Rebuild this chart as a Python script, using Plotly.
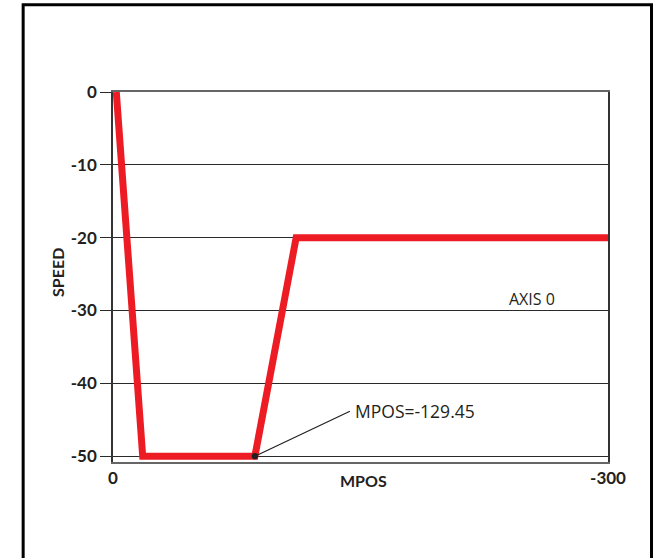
import plotly.graph_objects as go

# Data
mpos = [-2, -18, -86, -111, -300]
speed = [0, -50, -50, -20, -20]

y_tickvals = [0, -10, -20, -30, -40, -50]
y_ticktext = ["0", "-10", "-20", "-30", "-40", "-50"]
x_tickvals = [0, -300]
x_ticktext = ["0", "-300"]

annot_label = "MPOS=-129.45"
axis_label = "AXIS 0"

RED = "#ED1C24"
TICKFONT = dict(family="Lato", size=17, color="#231f20", weight="bold")

fig = go.Figure()
fig.add_trace(go.Scatter(
    x=mpos, y=speed, mode="lines",
    line=dict(color=RED, width=7),
    hoverinfo="skip", showlegend=False,
))

W, H = 655, 558
L, R, T, B = 113, 47, 92, 96

fig.update_layout(
    width=W, height=H,
    margin=dict(l=L, r=R, t=T, b=B, autoexpand=False),
    paper_bgcolor="white", plot_bgcolor="white",
    showlegend=False,
    xaxis=dict(
        range=[0, -300], tickvals=x_tickvals, ticktext=x_ticktext,
        showgrid=False, zeroline=False, ticks="",
        showline=True, linecolor="#666666", linewidth=2, mirror=True,
        tickfont=TICKFONT,
    ),
    yaxis=dict(
        range=[-50.8, 0], tickvals=y_tickvals, ticktext=y_ticktext,
        showgrid=True, gridcolor="#2a2a2a", gridwidth=1,
        zeroline=False, ticks="outside", ticklen=11, tickcolor="#2a2a2a", tickwidth=1,
        showline=True, linecolor="#333333", linewidth=1.5, mirror=True,
        tickfont=TICKFONT,
    ),
)

# Axis titles
fig.add_annotation(text="MPOS", xref="paper", yref="paper", x=0.507, y=0,
                   yshift=-18, xanchor="center", yanchor="middle", showarrow=False,
                   font=dict(family="Lato", size=16, color="#231f20", weight="bold"))
fig.add_annotation(text="SPEED", xref="paper", yref="paper", x=0, y=0.511,
                   xshift=-55, textangle=-90, xanchor="center", yanchor="middle",
                   showarrow=False,
                   font=dict(family="Lato", size=16, color="#231f20", weight="bold"))

# Callout
fig.add_annotation(text=annot_label, x=mpos[2], y=speed[2], xref="x", yref="y",
                   showarrow=True, arrowhead=6, arrowsize=1.3, arrowwidth=1.2,
                   arrowcolor="#231f20", ax=95, ay=-45, borderpad=4,
                   xanchor="left", yanchor="middle",
                   font=dict(family="Open Sans", size=17.5, color="#231f20"))
fig.add_annotation(text=axis_label, xref="paper", yref="paper", x=0.8458, y=0.4403,
                   xanchor="center", yanchor="middle", showarrow=False,
                   font=dict(family="Open Sans", size=16, color="#231f20"))

# Outer frame
fig.add_shape(type="rect", xref="paper", yref="paper",
              x0=-0.1815, x1=1.0879, y0=-0.35, y1=1.2355,
              line=dict(color="black", width=3), fillcolor="rgba(0,0,0,0)",
              layer="above")

fig.write_html(
    "out.html",
    config={"displayModeBar": False},
    post_script="document.body.style.margin='0';document.body.style.overflow='hidden';",
)
